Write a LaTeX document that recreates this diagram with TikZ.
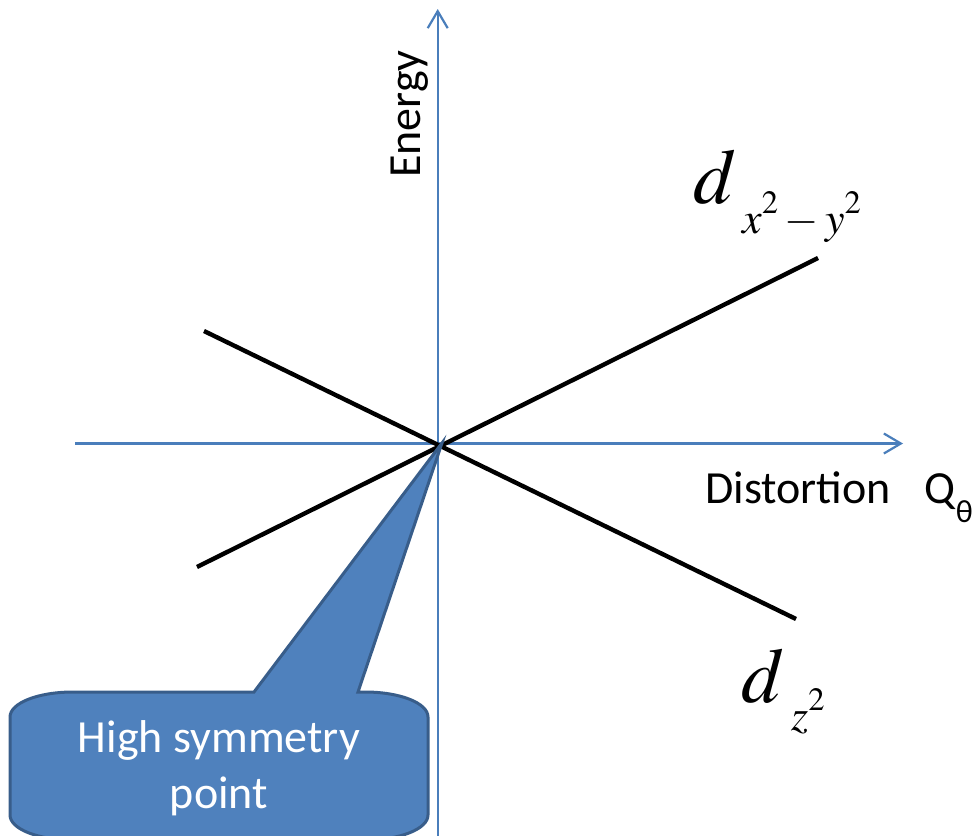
\documentclass[tikz,border=0pt]{standalone}
\usepackage{mathptmx}
\usepackage{fontspec}
\setmainfont{Carlito}
\usetikzlibrary{arrows.meta}
\definecolor{axisblue}{HTML}{4A7EBB}
\definecolor{callfill}{HTML}{4F81BD}
\definecolor{callline}{HTML}{385D8A}
\newcommand{\supraise}[1]{^{\raisebox{4pt}{$\scriptstyle #1$}}}
\tikzset{
  axis/.style={draw=axisblue, line width=2.2pt, -{Straight Barb[length=17pt,width=20pt,line width=2.2pt]}},
  level/.style={draw=black, line width=4.4pt},
  lbl/.style={inner sep=0pt, font=\fontsize{46}{56}\selectfont},
  callout/.style={fill=callfill, draw=callline, line width=3pt, line join=miter},
}
\begin{document}
\begin{tikzpicture}[x=1pt, y=-1pt]
\useasboundingbox (0,0) rectangle (979,835);
\clip (0,0) rectangle (979,835);
% axes
\coordinate (vb) at (437.7,840);
\coordinate (vt) at (437.7,9);
\coordinate (hl) at (75,443.5);
\coordinate (hr) at (903,443.5);
\draw[axis] (vb) -- (vt);
\draw[axis] (hl) -- (hr);
% levels
\coordinate (a1) at (204,331);
\coordinate (a2) at (796,619);
\coordinate (b1) at (197,567);
\coordinate (b2) at (818,258);
\draw[level] (a1) -- (a2);
\draw[level] (b1) -- (b2);
% labels
\node[lbl, anchor=base west, rotate=90] (energy) at (420,178) {Energy};
\node[lbl, anchor=base west] (dist) at (705,503) {Distortion\hspace{34pt}Q\raisebox{-19pt}{\fontsize{32}{32}\selectfont θ}};
\node[inner sep=0pt, anchor=base west] (dx) at (693,203)
  {{\fontsize{78}{78}\selectfont$d$}\hspace{6pt}\raisebox{-30pt}{\fontsize{44}{44}\selectfont$x\supraise{2}-y\supraise{2}$}};
\node[inner sep=0pt, anchor=base west] (dz) at (741,702)
  {{\fontsize{78}{78}\selectfont$d$}\hspace{7pt}\raisebox{-28pt}{\fontsize{44}{44}\selectfont$z\supraise{2}$}};
% callout
\coordinate (tip) at (442,443);
\draw[callout] (254,692) -- (tip) -- (358,692) -- (365,692)
  .. controls (400,692) and (428,703) .. (428,717)
  -- (428,815) .. controls (428,829) and (400,840) .. (365,840)
  -- (73,840) .. controls (38,840) and (10,829) .. (10,815)
  -- (10,717) .. controls (10,703) and (38,692) .. (73,692) -- cycle;
\node[lbl, text=white, align=center, anchor=base] (hsp) at (219,808) {High symmetry\\[0pt]point};
\end{tikzpicture}
\end{document}
